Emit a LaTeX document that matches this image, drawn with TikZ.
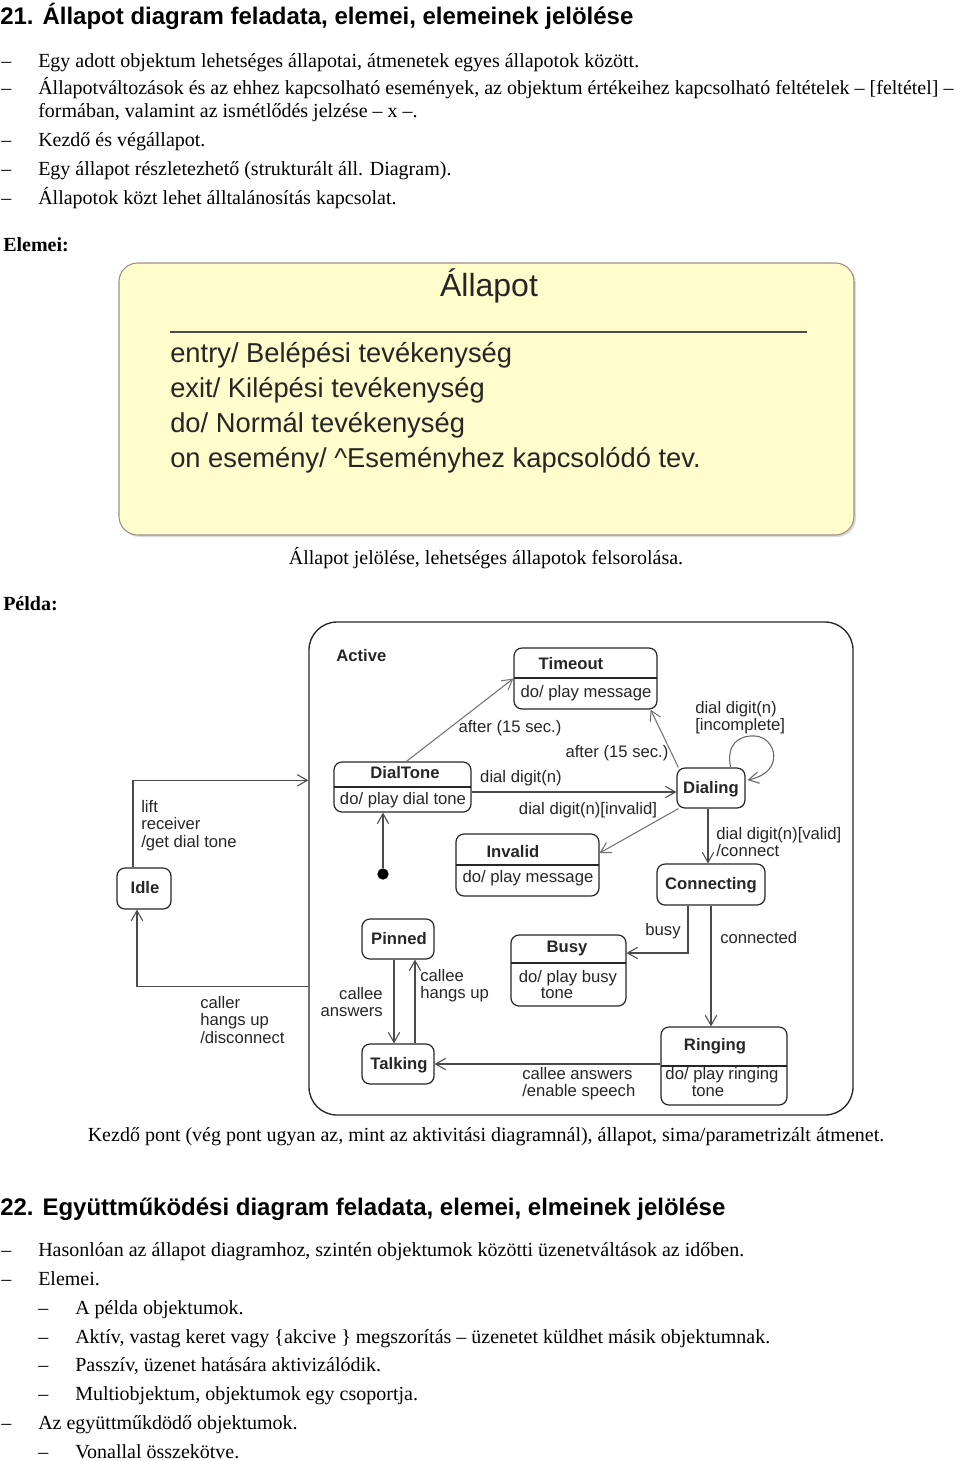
\documentclass[tikz,border=0pt]{standalone}
\usepackage{fontspec}
\setmainfont{Liberation Serif}
\newfontfamily\arial{Liberation Sans}
\usetikzlibrary{arrows.meta,calc,fit}
\definecolor{ink}{HTML}{262626}
\definecolor{lin}{HTML}{4A4A4A}
\definecolor{boxfill}{HTML}{FFFDCC}
\definecolor{boxedge}{HTML}{A08C8C}
\begin{document}
\begin{tikzpicture}[x=0.75pt,y=-0.75pt,
  txt/.style={inner sep=0pt, anchor=base west, font=\fontsize{15}{17}\selectfont},
  txtb/.style={txt, font=\bfseries\fontsize{15}{17}\selectfont},
  head/.style={inner sep=0pt, anchor=base west, font=\arial\bfseries\fontsize{18}{20}\selectfont},
  big/.style={inner sep=0pt, anchor=base west, text=ink, font=\arial\fontsize{20.5}{24}\selectfont},
  dg/.style={inner sep=0pt, anchor=base, text=ink, font=\arial\fontsize{12.5}{13.1}\selectfont},
  dgb/.style={dg, font=\arial\bfseries\fontsize{12.5}{13.1}\selectfont},
  lab/.style={dg, anchor=base west, align=left},
  sbox/.style={draw=ink, line width=0.9pt, rounded corners=6pt, inner sep=0pt},
  divl/.style={draw=ink, line width=0.9pt},
  arr/.style={draw=lin, line width=0.8pt, -{Straight Barb[length=7.5pt,width=8.5pt]}},
  ]
\useasboundingbox (0,0) rectangle (960,1461);

% ---------- Section 21 ----------
\node[head] (h21) at (0,24) {21. Állapot diagram feladata, elemei, elemeinek jelölése};
\node[txt] (d1) at (1,67) {–};
\node[txt] (t1) at (38,67) {Egy adott objektum lehetséges állapotai, átmenetek egyes állapotok között.};
\node[txt] (d2) at (1,94) {–};
\node[txt] (t2) at (38,94) {Állapotváltozások és az ehhez kapcsolható események, az objektum értékeihez kapcsolható feltételek – [feltétel] –};
\node[txt] (t2b) at (38,117) {formában, valamint az ismétlődés jelzése – x –.};
\node[txt] (d3) at (1,146) {–};
\node[txt] (t3) at (38,146) {Kezdő és végállapot.};
\node[txt] (d4) at (1,175) {–};
\node[txt] (t4) at (38,175) {Egy állapot részletezhető (strukturált áll. Diagram).};
\node[txt] (d5) at (1,204) {–};
\node[txt] (t5) at (38,204) {Állapotok közt lehet álltalánosítás kapcsolat.};
\node[txtb] (elemei) at (3,251) {Elemei:};

% ---------- State notation box ----------
\fill[black!14, rounded corners=14pt] (121,265) rectangle (856,537);
\node[draw=boxedge, fill=boxfill, line width=0.8pt, rounded corners=14pt, inner sep=0pt, fit={(119,263) (854,535)}] (allapot) {};
\node[big, anchor=base, font=\arial\fontsize{24}{28}\selectfont] (atitle) at (489,296) {Állapot};
\draw[draw=black!70, line width=0.8pt] (170,332) -- (807,332);
\node[big] (e1) at (170,362) {entry/ Belépési tevékenység};
\node[big] (e2) at (170,397) {exit/ Kilépési tevékenység};
\node[big] (e3) at (170,432) {do/ Normál tevékenység};
\node[big] (e4) at (170,467) {on esemény/ \^{}Eseményhez kapcsolódó tev.};
\node[txt, anchor=base] (cap1) at (486,564) {Állapot jelölése, lehetséges állapotok felsorolása.};
\node[txtb] (pelda) at (3,610) {Példa:};

% ---------- Example state diagram ----------
\node[draw=ink, line width=1pt, rounded corners=21pt, inner sep=0pt, fit={(309,622) (853,1115)}] (active) {};
\node[dgb, anchor=base west] (activel) at (336,661) {Active};

\node[sbox, fit={(514,648) (657,709)}] (timeout) {};
\draw[divl] (514,678) -- (657,678);
\node[dgb] at (571,669) {Timeout};
\node[dg] at (586,697) {do/ play message};

\node[sbox, fit={(334,762) (471,812)}] (dialtone) {};
\draw[divl] (334,787) -- (471,787);
\node[dgb] at (405,778) {DialTone};
\node[dg] at (403,804) {do/ play dial tone};

\node[sbox, fit={(677,768) (745,808)}] (dialing) {};
\node[dgb] at (711,793) {Dialing};

\node[sbox, fit={(456,834) (599,896)}] (invalid) {};
\draw[divl] (456,865) -- (599,865);
\node[dgb] at (513,857) {Invalid};
\node[dg] at (528,882) {do/ play message};

\node[sbox, fit={(657,864) (765,905)}] (connecting) {};
\node[dgb] at (711,889) {Connecting};

\node[sbox, fit={(511,935) (626,1006)}] (busy) {};
\draw[divl] (511,963) -- (626,963);
\node[dgb] at (567,952) {Busy};
\node[dg] at (568,982) {do/ play busy};
\node[dg] at (557,998) {tone};

\node[sbox, fit={(362,919) (434,959)}] (pinned) {};
\node[dgb] at (399,944) {Pinned};

\node[sbox, fit={(362,1044) (434,1084)}] (talking) {};
\node[dgb] at (399,1069) {Talking};

\node[sbox, fit={(661,1027) (787,1105)}] (ringing) {};
\draw[divl] (661,1066) -- (787,1066);
\node[dgb] at (715,1050) {Ringing};
\node[dg] at (722,1079) {do/ play ringing};
\node[dg] at (708,1096) {tone};

\node[sbox, fit={(117,868) (171,909)}] (idle) {};
\node[dgb] at (145,893) {Idle};

\node[circle, fill=black, inner sep=0pt, minimum size=8.5pt] (init) at (383,874) {};

% connectors (multi-line labels: base = baseline of last line)
\draw[arr] ($(idle.north)+(-11,0)$) |- ($(active.north west)+(0,159)$);
\node[lab] at (141,847) {lift\\receiver\\/get dial tone};
\draw[arr] ($(active.north west)+(0,365)$) -| ($(idle.south)+(-7,0)$);
\node[lab] at (200,1043) {caller\\hangs up\\/disconnect};

\draw[arr] (init) -- (init |- dialtone.south);

\draw[arr, draw=black!55] ($(dialtone.north west)+(73,0)$) -- (timeout.west);
\node[dg] at (510,732) {after (15 sec.)};

\draw[arr, draw=black!55] ($(dialing.north west)+(2,0)$) -- ($(timeout.south east)+(-7,0)$);
\node[dg] at (617,757) {after (15 sec.)};

\draw[arr] ($(dialtone.east)+(0,5)$) -- ($(dialing.west)+(0,4)$);
\node[dg] at (521,782) {dial digit(n)};

\draw[arr, draw=black!55] ($(dialing.south west)+(2,0)$) -- ($(invalid.east)+(0,-12)$);
\node[dg] at (588,814) {dial digit(n)[invalid]};

\draw[arr, draw=black!60] ($(dialing.north east)+(-15,0)$) .. controls (726,745) and (738,735) .. (755,736) .. controls (776,737) and (786,772) .. ($(dialing.east)+(2,-8)$);
\node[lab] at (695,730.5) {dial digit(n)\\{[}incomplete{]}};

\draw[arr] ($(dialing.south)+(-3,0)$) -- ($(connecting.north)+(-3,0)$);
\node[lab] at (716,856.5) {dial digit(n)[valid]\\/connect};

\draw[arr] ($(connecting.south)+(-23,0)$) |- ($(busy.east)+(0,-17.5)$);
\node[dg] at (663,935) {busy};

\draw[arr] (connecting.south) -- (connecting.south |- ringing.north);
\node[lab] at (720,943) {connected};

\draw[arr] (talking.east -| ringing.west) -- (talking.east);
\node[lab] at (522,1096.5) {callee answers\\/enable speech};

\draw[arr] ($(pinned.south)+(-4,0)$) -- ($(talking.north)+(-4,0)$);
\node[dg, anchor=base east, align=right] at (383,1016.5) {callee\\answers};

\draw[arr] ($(talking.north)+(17,0)$) -- ($(pinned.south)+(17,0)$);
\node[lab] at (420,998.5) {callee\\hangs up};

\node[txt, anchor=base] (cap2) at (486,1141) {Kezdő pont (vég pont ugyan az, mint az aktivitási diagramnál), állapot, sima/parametrizált átmenet.};

% ---------- Section 22 ----------
\node[head] (h22) at (0,1215) {22. Együttműködési diagram feladata, elemei, elmeinek jelölése};
\node[txt] at (1,1256) {–};
\node[txt] at (38,1256) {Hasonlóan az állapot diagramhoz, szintén objektumok közötti üzenetváltások az időben.};
\node[txt] at (1,1285) {–};
\node[txt] at (38,1285) {Elemei.};
\node[txt] at (38,1314) {–};
\node[txt] at (75,1314) {A példa objektumok.};
\node[txt] at (38,1343) {–};
\node[txt] at (75,1343) {Aktív, vastag keret vagy \{akcive \} megszorítás – üzenetet küldhet másik objektumnak.};
\node[txt] at (38,1371) {–};
\node[txt] at (75,1371) {Passzív, üzenet hatására aktivizálódik.};
\node[txt] at (38,1400) {–};
\node[txt] at (75,1400) {Multiobjektum, objektumok egy csoportja.};
\node[txt] at (1,1429) {–};
\node[txt] at (38,1429) {Az együttműkdödő objektumok.};
\node[txt] at (38,1458) {–};
\node[txt] at (75,1458) {Vonallal összekötve.};
\end{tikzpicture}
\end{document}
